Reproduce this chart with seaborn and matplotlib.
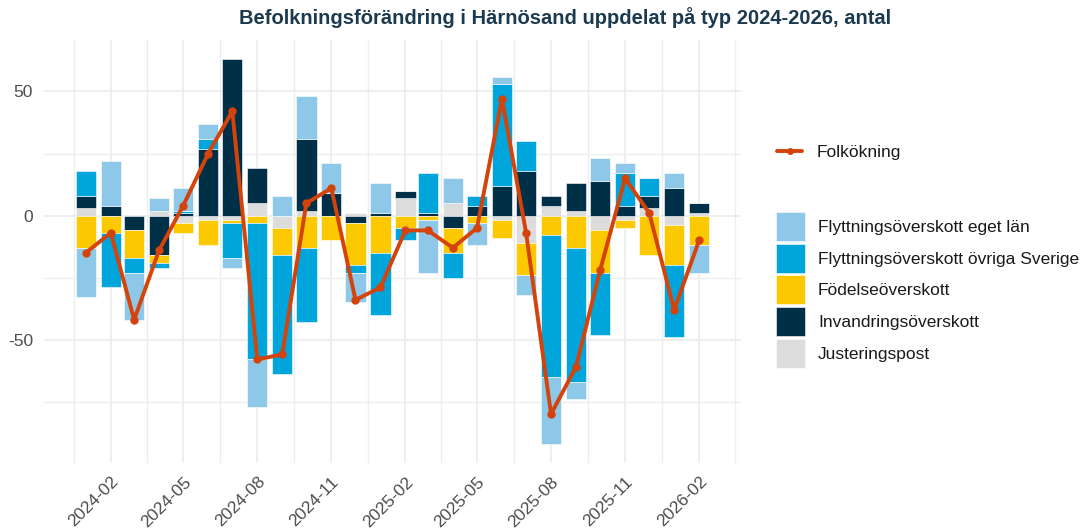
import numpy as np
import pandas as pd
import matplotlib.pyplot as plt
from matplotlib.patches import Patch
from matplotlib.lines import Line2D
import seaborn as sns

# ==========================================
#   DATA
# ==========================================
months = ["2024-01", "2024-02", "2024-03", "2024-04", "2024-05", "2024-06",
          "2024-07", "2024-08", "2024-09", "2024-10", "2024-11", "2024-12",
          "2025-01", "2025-02", "2025-03", "2025-04", "2025-05", "2025-06",
          "2025-07", "2025-08", "2025-09", "2025-10", "2025-11", "2025-12",
          "2026-01", "2026-02"]

eget_lan = [-20, 18, -19, 5, 9, 6, -4, -19, 8, 17, 12, -12,
            12, 0, -21, 10, -9, 3, -8, -27, -7, 9, 4, 0, 6, -11]
ovriga_sverige = [10, -22, -6, -2, 1, 4, -14, -55, -48, -30, 0, -3,
                  -25, -5, 16, -10, 4, 41, 12, -57, -54, -25, 13, 7, -29, 0]
fodelse = [-13, -7, -11, -3, -4, -10, -1, -3, -11, -13, -10, -17,
           -15, -5, -2, -10, -3, -7, -13, -8, -13, -17, -3, -16, -16, -12]
invandring = [5, 4, -6, -16, 1, 27, 63, 14, 0, 29, 9, -3,
              1, 3, 1, -5, 4, 12, 18, 4, 11, 14, 4, 5, 11, 4]
justering = [3, 0, 0, 2, -3, -2, -2, 5, -5, 2, 0, 1,
             0, 7, 0, 5, 0, -2, -11, 4, 2, -6, -2, 3, -4, 1]
folkokning = [-15, -7, -42, -14, 4, 25, 42, -58, -56, 5, 11, -34,
              -29, -6, -6, -13, -5, 47, -7, -80, -61, -22, 15, 1, -38, -10]

CATEGORIES = ["Flyttningsöverskott eget län", "Flyttningsöverskott övriga Sverige",
              "Födelseöverskott", "Invandringsöverskott", "Justeringspost"]

COLORS = {
    "Flyttningsöverskott eget län": "#8DC8E8",
    "Flyttningsöverskott övriga Sverige": "#00A5DC",
    "Födelseöverskott": "#FCC900",
    "Invandringsöverskott": "#002F48",
    "Justeringspost": "#DCDCDC",
}
LINE_COLOR = "#D4430A"
TITLE = "Befolkningsförändring i Härnösand uppdelat på typ 2024-2026, antal"

# ==========================================
#   STYLE
# ==========================================
sns.set_theme(style="whitegrid")
plt.rcParams["font.family"] = ["Liberation Sans", "DejaVu Sans"]

dates = pd.to_datetime(months)
df = pd.DataFrame({
    CATEGORIES[0]: eget_lan,
    CATEGORIES[1]: ovriga_sverige,
    CATEGORIES[2]: fodelse,
    CATEGORIES[3]: invandring,
    CATEGORIES[4]: justering,
    "Folkökning": folkokning,
}, index=dates)

W, H = 1084, 529
fig = plt.figure(figsize=(W / 100, H / 100), dpi=100)
ax = fig.add_axes([44 / W, 1 - 463 / H, (741 - 44) / W, (463 - 40) / H])

# stacked bars, positives and negatives stacked separately (ggplot style)
bar_w = 25.2  # days
pos_bottom = np.zeros(len(df))
neg_bottom = np.zeros(len(df))
for cat in reversed(CATEGORIES):  # Justeringspost nearest zero
    vals = df[cat].to_numpy(dtype=float)
    bottom = np.where(vals >= 0, pos_bottom, neg_bottom)
    ax.bar(df.index, vals, width=bar_w, bottom=bottom, color=COLORS[cat],
           edgecolor="white", linewidth=0.4, zorder=2)
    pos_bottom += np.clip(vals, 0, None)
    neg_bottom += np.clip(vals, None, 0)

# Folkökning line
sns.lineplot(x=df.index, y=df["Folkökning"], ax=ax, color=LINE_COLOR,
             linewidth=2.8, marker="o", markersize=6, markeredgewidth=0,
             zorder=3, legend=False)

# ==========================================
#   AXES
# ==========================================
pad = pd.Timedelta(days=52)
ax.set_xlim(dates[0] - pad, dates[-1] + pad)
ax.set_ylim(-99.75, 70.75)

major = dates[1::3]
ext = [major[0] - pd.DateOffset(months=3)] + list(major) + [major[-1] + pd.DateOffset(months=3)]
minor = [a + (b - a) / 2 for a, b in zip(ext[:-1], ext[1:])]
ax.set_xticks(major)
ax.set_xticklabels(months[1::3], rotation=45, ha="right", rotation_mode="anchor")
ax.set_xticks(minor, minor=True)
ax.set_yticks([-50, 0, 50])
ax.set_yticklabels(["-50", "0", "50"])
ax.set_yticks([-75, -25, 25], minor=True)

ax.grid(which="major", color="#EBEBEB", linewidth=1.2, zorder=0)
ax.grid(which="minor", color="#EEEEEE", linewidth=1.0, zorder=0)
ax.set_axisbelow(True)
ax.tick_params(axis="both", which="both", length=0, labelsize=12.5,
               labelcolor="#4D4D4D")
ax.tick_params(axis="x", pad=8)
ax.tick_params(axis="y", pad=8)
ax.set_xlabel("")
ax.set_ylabel("")
for s in ax.spines.values():
    s.set_visible(False)

fig.text(565 / W, 1 - 18 / H, TITLE, ha="center", va="center",
         fontsize=14.5, fontweight="bold", color="#1B3A50")

# ==========================================
#   LEGENDS
# ==========================================
line_handle = [Line2D([0], [0], color=LINE_COLOR, lw=2.8, marker="o",
                      markersize=5, markeredgewidth=0, label="Folkökning")]
leg1 = fig.legend(handles=line_handle, loc="center left",
                  bbox_to_anchor=(777 / W, 1 - 152 / H), frameon=False,
                  fontsize=12.5, handlelength=1.45, handletextpad=0.85,
                  borderpad=0, borderaxespad=0)

bar_handles = [Patch(facecolor=COLORS[c], edgecolor="white", linewidth=0.4, label=c)
               for c in CATEGORIES]
leg2 = fig.legend(handles=bar_handles, loc="upper left",
                  bbox_to_anchor=(776 / W, 1 - 212 / H), frameon=False,
                  fontsize=12.5, handlelength=1.67, handleheight=2.2,
                  handletextpad=0.75, labelspacing=0.15,
                  borderpad=0, borderaxespad=0)
for t in leg1.get_texts() + leg2.get_texts():
    t.set_color("#1A1A1A")

fig.savefig("out.png", dpi=100)
plt.close(fig)
